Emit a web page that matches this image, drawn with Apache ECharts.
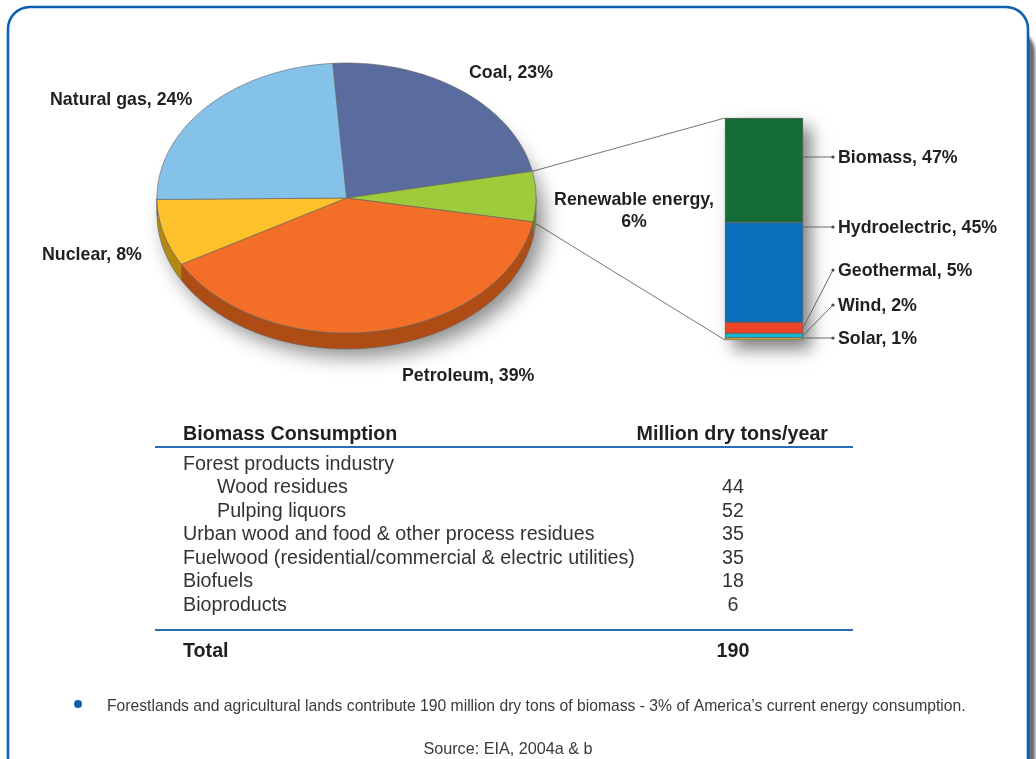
<!DOCTYPE html>
<html>
<head>
<meta charset="utf-8">
<script src="https://cdn.jsdelivr.net/npm/echarts@6/dist/echarts.min.js"></script>
<style>
  html, body { margin: 0; padding: 0; background: #ffffff; }
  #chart { width: 1036px; height: 759px; }
</style>
</head>
<body>
<div id="chart"></div>
<script>
// U.S. energy consumption by source (%), clockwise from the top
const pieCategories = ['Coal', 'Renewable energy', 'Petroleum', 'Nuclear', 'Natural gas'];
const pieShares = [23, 6, 39, 8, 24];

// Breakdown of the renewable share (%), bottom to top of the column
const renewableCategories = ['Solar', 'Wind', 'Geothermal', 'Hydroelectric', 'Biomass'];
const renewableShares = [1, 2, 5, 45, 47];

// Biomass consumption table
const tableHeader = ['Biomass Consumption', 'Million dry tons/year'];
const tableRows = [
  'Forest products industry',
  'Wood residues',
  'Pulping liquors',
  'Urban wood and food & other process residues',
  'Fuelwood (residential/commercial & electric utilities)',
  'Biofuels',
  'Bioproducts'
];
const tableIndent = [0, 1, 1, 0, 0, 0, 0];
const tableValues = [null, 44, 52, 35, 35, 18, 6];
const tableTotal = 190;

const noteText = 'Forestlands and agricultural lands contribute 190 million dry tons of biomass - 3% of America\u2019s current energy consumption.';
const sourceText = 'Source: EIA, 2004a & b';

// ---- styling / layout ----
const pieColors = ['#5a6b9e', '#9ecb3b', '#f36f27', '#fdc12b', '#85c2ea'];
const pieSideColors = ['#3f4b70', '#6e8f28', '#ad4c15', '#b5880f', '#5f8ba8'];
const renewableColors = ['#f8c22a', '#10bcd6', '#ee4324', '#0a6fb9', '#156b36'];

const PIE = { cx: 346.5, cy: 198, rx: 189.5, ry: 135, depth: 16, startAngle: 94.2 };
const TEXT_DY = 1.5; // optical correction for middle-aligned text
const pieLabelLayout = [
  { x: 469, y: 72, align: 'left' },
  { x: 634, y: 210, align: 'center' },
  { x: 402, y: 375, align: 'left' },
  { x: 42, y: 254, align: 'left' },
  { x: 50, y: 99, align: 'left' }
];
const calloutY = [338, 305, 270, 227, 157];
const COLUMN = { left: 725, top: 118, width: 78, height: 222 };

const LABEL_FONT = 'bold 17.8px "Liberation Sans", Arial, sans-serif';
const TEXT_COLOR = '#231f20';

const pieTotal = pieShares.reduce((a, b) => a + b, 0);

function sliceRange(i) {
  let before = 0;
  for (let k = 0; k < i; k++) before += pieShares[k];
  const a0 = PIE.startAngle - before / pieTotal * 360;
  const a1 = a0 - pieShares[i] / pieTotal * 360;
  return [a0, a1];
}
function ellipsePoint(t, dy) {
  const r = t * Math.PI / 180;
  return [PIE.cx + PIE.rx * Math.cos(r), PIE.cy - PIE.ry * Math.sin(r) + (dy || 0)];
}
function arcPoints(a0, a1, dy) {
  const n = Math.max(2, Math.ceil(Math.abs(a0 - a1) / 1.5));
  const pts = [];
  for (let j = 0; j <= n; j++) pts.push(ellipsePoint(a0 + (a1 - a0) * j / n, dy));
  return pts;
}

// tilted pie with a visible rim on the front half
function renderPie(params, api) {
  const i = params.dataIndex;
  const value = api.value(0);
  const [a0, a1] = sliceRange(i);
  const children = [];
  if (i === 0) {
    children.push({
      type: 'ellipse',
      shape: { cx: PIE.cx, cy: PIE.cy + PIE.depth, rx: PIE.rx, ry: PIE.ry },
      style: { fill: '#9a9a9a', shadowBlur: 20, shadowOffsetX: 8, shadowOffsetY: 8, shadowColor: 'rgba(0,0,0,0.45)' },
      z2: 0
    });
  }
  const s0 = Math.min(a0, 0), s1 = Math.max(a1, -180);
  if (s0 > s1) {
    const top = arcPoints(s0, s1, 0);
    const bottom = arcPoints(s1, s0, PIE.depth);
    children.push({
      type: 'polygon',
      shape: { points: top.concat(bottom) },
      style: { fill: pieSideColors[i], stroke: '#6a6a6a', lineWidth: 0.6 },
      z2: 1
    });
  }
  children.push({
    type: 'polygon',
    shape: { points: [[PIE.cx, PIE.cy]].concat(arcPoints(a0, a1, 0)) },
    style: { fill: pieColors[i], stroke: '#626262', lineWidth: 0.6 },
    z2: 2
  });
  const lay = pieLabelLayout[i];
  const name = pieCategories[i];
  const text = name === 'Renewable energy' ? name + ',\n' + value + '%' : name + ', ' + value + '%';
  children.push({
    type: 'text',
    style: {
      x: lay.x, y: lay.y + TEXT_DY, text: text, font: LABEL_FONT, fill: TEXT_COLOR,
      align: lay.align, verticalAlign: 'middle', lineHeight: 22
    },
    z2: 3
  });
  return { type: 'group', children: children };
}

// stacked bounds of each renewable segment
const stackBounds = [];
{
  let acc = 0;
  renewableShares.forEach(v => { stackBounds.push([acc, acc + v]); acc += v; });
}

// callout lines and labels next to the column
function renderCallout(params, api) {
  const i = params.dataIndex;
  const [lo, hi] = stackBounds[i];
  const halfW = api.size([1, 0])[0] / 2;
  const right = api.coord([0, 0])[0] + halfW;
  const yTop = api.coord([0, hi])[1];
  const yBot = api.coord([0, lo])[1];
  const ly = calloutY[i];
  const startY = (ly >= yTop && ly <= yBot) ? ly : (yTop + yBot) / 2;
  const endX = right + 30;
  return {
    type: 'group',
    children: [
      { type: 'line', shape: { x1: right, y1: startY, x2: endX, y2: ly }, style: { stroke: '#5a5a5a', lineWidth: 0.9 } },
      { type: 'circle', shape: { cx: endX, cy: ly, r: 1.6 }, style: { fill: '#4a4a4a' } },
      {
        type: 'text',
        style: {
          x: endX + 5, y: ly + TEXT_DY, text: renewableCategories[i] + ', ' + api.value(1) + '%',
          font: LABEL_FONT, fill: TEXT_COLOR, align: 'left', verticalAlign: 'middle'
        }
      }
    ]
  };
}

// connectors from the renewable slice to the column, plus the column shadow
function renderConnector(params, api) {
  const idx = pieCategories.indexOf('Renewable energy');
  const [a0, a1] = sliceRange(idx);
  const halfW = api.size([1, 0])[0] / 2;
  const topPt = api.coord([0, 100]);
  const botPt = api.coord([0, 0]);
  const p0 = ellipsePoint(a0, 0);
  const p1 = ellipsePoint(a1, 0);
  return {
    type: 'group',
    children: [
      {
        type: 'rect',
        shape: { x: topPt[0] - halfW, y: topPt[1], width: halfW * 2, height: botPt[1] - topPt[1] },
        style: { fill: '#888', shadowBlur: 16, shadowOffsetX: 8, shadowOffsetY: 9, shadowColor: 'rgba(0,0,0,0.5)' }
      },
      { type: 'line', shape: { x1: p0[0], y1: p0[1], x2: topPt[0] - halfW, y2: topPt[1] }, style: { stroke: '#666', lineWidth: 0.9 } },
      { type: 'line', shape: { x1: p1[0], y1: p1[1], x2: botPt[0] - halfW, y2: botPt[1] }, style: { stroke: '#666', lineWidth: 0.9 } }
    ]
  };
}

// table, note and frame as graphic elements
const BODY_FONT = '19.7px "Liberation Sans", Arial, sans-serif';
const BOLD_FONT = 'bold 19.7px "Liberation Sans", Arial, sans-serif';
const SMALL_FONT = '15.7px "Liberation Sans", Arial, sans-serif';
const TABLE = { left: 183, indent: 34, valueX: 733, headerY: 433, firstRowY: 463, rowStep: 23.45, rule1: 447, rule2: 630, totalY: 650, ruleL: 155, ruleR: 853 };

function txt(x, y, text, font, fill, align) {
  return { type: 'text', x: x, y: y + TEXT_DY, style: { text: text, font: font, fill: fill, textAlign: align, align: align, textVerticalAlign: 'middle', verticalAlign: 'middle' }, z: 5 };
}

const graphics = [
  {
    type: 'rect', z: 0,
    shape: { x: 8, y: 30, width: 1020, height: 800, r: 22 },
    style: { fill: '#ffffff', shadowBlur: 3, shadowOffsetX: 7, shadowOffsetY: 0, shadowColor: 'rgba(70,70,70,0.8)' }
  },
  {
    type: 'rect', z: 0,
    shape: { x: 8, y: 7, width: 1020, height: 820, r: 22 },
    style: { fill: '#ffffff' }
  },
  {
    type: 'rect', z: 1,
    shape: { x: 8, y: 7, width: 1020, height: 820, r: 22 },
    style: { fill: 'none', stroke: '#0b5fb4', lineWidth: 2.6 }
  },
  txt(TABLE.left, TABLE.headerY, tableHeader[0], BOLD_FONT, TEXT_COLOR, 'left'),
  txt(828, TABLE.headerY, tableHeader[1], BOLD_FONT, TEXT_COLOR, 'right'),
  { type: 'line', z: 5, shape: { x1: TABLE.ruleL, y1: TABLE.rule1, x2: TABLE.ruleR, y2: TABLE.rule1 }, style: { stroke: '#2a6cb4', lineWidth: 2 } },
  { type: 'line', z: 5, shape: { x1: TABLE.ruleL, y1: TABLE.rule2, x2: TABLE.ruleR, y2: TABLE.rule2 }, style: { stroke: '#2a6cb4', lineWidth: 2 } },
  txt(TABLE.left, TABLE.totalY, 'Total', BOLD_FONT, TEXT_COLOR, 'left'),
  txt(TABLE.valueX, TABLE.totalY, String(tableTotal), BOLD_FONT, TEXT_COLOR, 'center'),
  { type: 'circle', z: 5, shape: { cx: 78, cy: 704, r: 4 }, style: { fill: '#0b5fb4' } },
  txt(107, 705, noteText, SMALL_FONT, '#3a3a3a', 'left'),
  txt(508, 748, sourceText, '16.2px "Liberation Sans", Arial, sans-serif', '#3a3a3a', 'center')
];
tableRows.forEach((row, i) => {
  const y = TABLE.firstRowY + i * TABLE.rowStep;
  graphics.push(txt(TABLE.left + tableIndent[i] * TABLE.indent, y, row, BODY_FONT, '#333333', 'left'));
  if (tableValues[i] !== null) {
    graphics.push(txt(TABLE.valueX, y, String(tableValues[i]), BODY_FONT, '#333333', 'center'));
  }
});

const chart = echarts.init(document.getElementById('chart'), null, { renderer: 'canvas' });

const option = {
  animation: false,
  backgroundColor: '#ffffff',
  graphic: { elements: graphics },
  grid: { left: COLUMN.left, top: COLUMN.top, width: COLUMN.width, height: COLUMN.height, containLabel: false },
  xAxis: { type: 'category', data: ['Renewable energy'], show: false },
  yAxis: { type: 'value', min: 0, max: 100, show: false, splitLine: { show: false } },
  series: [
    {
      type: 'custom', name: 'Energy sources', coordinateSystem: 'none', z: 3,
      data: pieShares.map((v, i) => ({ name: pieCategories[i], value: v })),
      renderItem: renderPie
    },
    {
      type: 'custom', name: 'connectors', coordinateSystem: 'cartesian2d', z: 1,
      data: [[0, 100]],
      renderItem: renderConnector
    }
  ].concat(renewableCategories.map((name, i) => ({
    type: 'bar', name: name, stack: 'renewable', barWidth: '100%', z: 2,
    data: [renewableShares[i]],
    itemStyle: { color: renewableColors[i], borderColor: '#5c5c5c', borderWidth: 0.6 }
  }))).concat([
    {
      type: 'custom', name: 'callouts', coordinateSystem: 'cartesian2d', z: 4,
      data: renewableShares.map((v, i) => [0, v]),
      renderItem: renderCallout
    }
  ])
};

chart.setOption(option);
</script>
</body>
</html>
